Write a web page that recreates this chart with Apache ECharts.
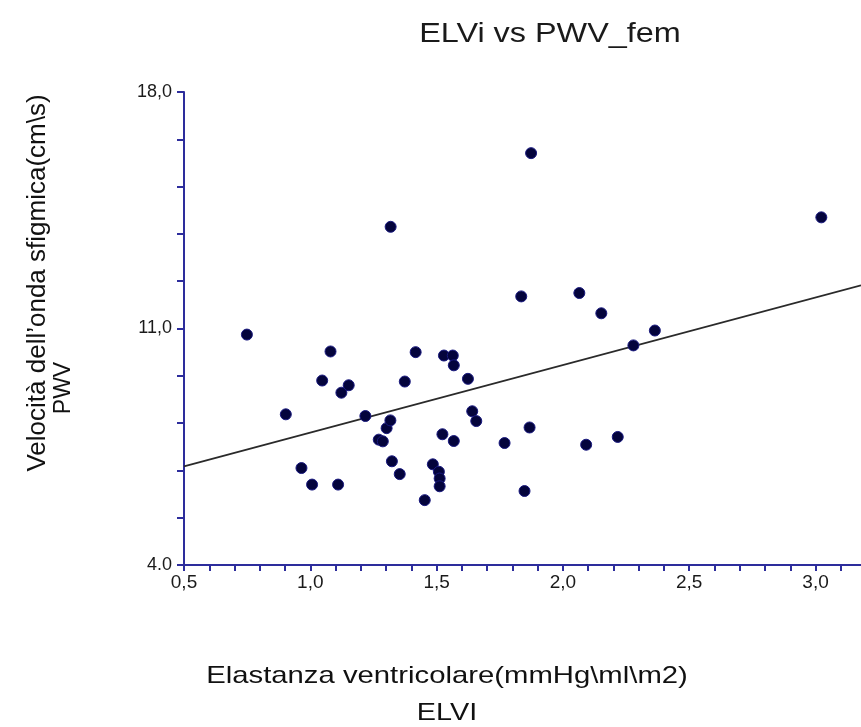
<!DOCTYPE html>
<html>
<head>
<meta charset="utf-8">
<script src="https://cdn.jsdelivr.net/npm/echarts@6/dist/echarts.min.js"></script>
<style>html,body{margin:0;padding:0;background:#fff}#c{width:861px;height:727px}</style>
</head>
<body>
<div id="c"></div>
<script>
// ---- data ----
const elvi = [0.749,0.903,0.965,1.007,1.047,1.080,1.110,1.123,1.152,1.218,1.271,1.287,1.302,1.317,1.318,1.323,1.354,1.374,1.417,1.453,1.485,1.509,1.512,1.512,1.523,1.529,1.564,1.568,1.568,1.624,1.641,1.657,1.769,1.835,1.848,1.868,1.874,2.065,2.092,2.152,2.217,2.279,2.364,3.023];
const pwv  = [10.82,8.46,6.87,6.38,9.46,10.32,6.38,9.10,9.32,8.41,7.71,7.66,8.05,8.28,14.01,7.07,6.69,9.43,10.30,5.92,6.98,6.76,6.56,6.33,7.87,10.20,10.20,9.91,7.67,9.51,8.55,8.26,7.61,11.95,6.19,8.07,16.19,12.05,7.56,11.45,7.79,10.50,10.94,14.29];
const trendX = [0.5, 3.18];
const trendY = [6.92, 12.28];
const xTickValues = [0.5,1.0,1.5,2.0,2.5,3.0];
const xTickLabels = ['0,5','1,0','1,5','2,0','2,5','3,0'];
const yTickValues = [4,11,18];
const yTickLabels = ['4.0','11,0','18,0'];
const titleText = 'ELVi vs PWV_fem';
const xName1 = 'Elastanza ventricolare(mmHg\\ml\\m2)';
const xName2 = 'ELVI';
const yName1 = 'Velocità dell\u2019onda sfigmica(cm\\s)';
const yName2 = 'PWV';

function lab(vals, labels, v){
  for (let i=0;i<vals.length;i++){ if (Math.abs(vals[i]-v)<1e-6) return labels[i]; }
  return '';
}
const axisBlue = '#2d2d9c';
const chart = echarts.init(document.getElementById('c'));
chart.setOption({
  animation:false,
  backgroundColor:'#fff',
  grid:{left:184, top:92, right:0, bottom:162},
  xAxis:{type:'value', min:0.5, max:3.18, interval:0.1,
    axisLine:{show:true, onZero:false, lineStyle:{color:axisBlue, width:2}},
    axisTick:{show:true, inside:false, length:6, lineStyle:{color:axisBlue, width:2}},
    splitLine:{show:false},
    axisLabel:{show:true, margin:8, fontFamily:'Liberation Sans', fontSize:19, color:'#1a1a1a',
      formatter:v=>lab(xTickValues,xTickLabels,v), showMaxLabel:false, interval:0}
  },
  yAxis:{type:'value', min:4, max:18, interval:7,
    axisLine:{show:true, onZero:false, lineStyle:{color:axisBlue, width:2}},
    axisTick:{show:true, inside:false, length:7, lineStyle:{color:axisBlue, width:2}},
    minorTick:{show:true, splitNumber:5, length:7, lineStyle:{color:axisBlue, width:2}},
    splitLine:{show:false}, minorSplitLine:{show:false},
    axisLabel:{show:true, margin:12, fontFamily:'Liberation Sans', fontSize:18, color:'#1a1a1a',
      formatter:v=>lab(yTickValues,yTickLabels,v)}
  },
  series:[
    {type:'line', data:trendX.map((x,i)=>[x,trendY[i]]), symbol:'none', silent:true,
      lineStyle:{color:'#2a2a2a', width:1.7}, z:1},
    {type:'scatter', data:elvi.map((x,i)=>[x,pwv[i]]), symbol:'circle', symbolSize:11,
      itemStyle:{color:'#04043c', borderColor:'#1a1a80', borderWidth:1, opacity:1}, z:3}
  ],
  graphic:[
    {type:'text', x:550, y:35, scaleX:1.2,
      style:{text:titleText, fontFamily:'Liberation Sans', fontSize:27, fill:'#1a1a1a', align:'center', verticalAlign:'middle'}},
    {type:'text', x:447, y:676, scaleX:1.22,
      style:{text:xName1, fontFamily:'Liberation Sans', fontSize:24, fill:'#111', align:'center', verticalAlign:'middle'}},
    {type:'text', x:447, y:713, scaleX:1.2,
      style:{text:xName2, fontFamily:'Liberation Sans', fontSize:24, fill:'#111', align:'center', verticalAlign:'middle'}},
    {type:'text', x:38, y:283, rotation:Math.PI/2,
      style:{text:yName1, fontFamily:'Liberation Sans', fontSize:26, fill:'#111', align:'center', verticalAlign:'middle'}},
    {type:'text', x:64, y:388, rotation:Math.PI/2,
      style:{text:yName2, fontFamily:'Liberation Sans', fontSize:23, fill:'#111', align:'center', verticalAlign:'middle'}}
  ]
});
</script>
</body>
</html>
